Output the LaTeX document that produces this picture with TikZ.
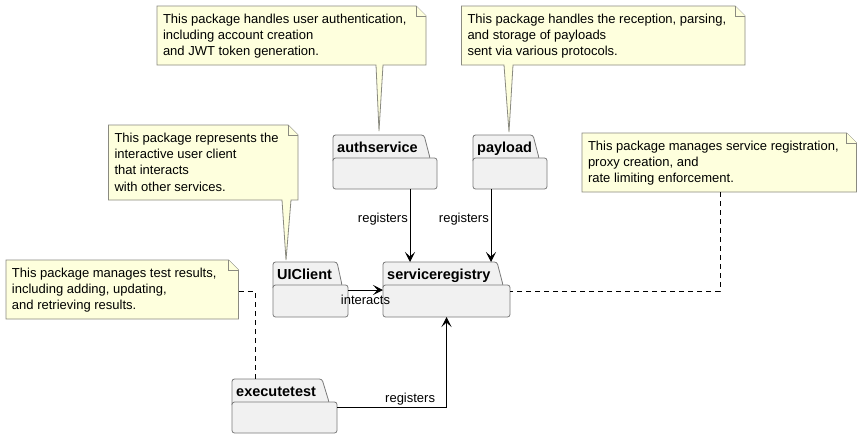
\documentclass[tikz,border=0pt]{standalone}
\usepackage{fontspec}
\setmainfont{Liberation Sans}
\usetikzlibrary{arrows.meta,calc}
\definecolor{notefill}{HTML}{FEFFDD}
\definecolor{notedraw}{HTML}{8A8A80}
\definecolor{pkgfill}{HTML}{F1F1F1}
\definecolor{pkgdraw}{HTML}{7A7A7A}
\tikzset{
  notebox/.style={fill=notefill, draw=notedraw, line width=0.8pt, line join=miter},
  pkgbox/.style={fill=pkgfill, draw=pkgdraw, line width=0.8pt, rounded corners=2.5pt},
  notetext/.style={anchor=north west, inner sep=0pt, outer sep=0pt, align=left, font=\fontsize{13}{16.3}\selectfont},
  pkgtitle/.style={anchor=base west, inner sep=0pt, font=\fontsize{14.5}{16}\selectfont\bfseries},
  lbl/.style={inner sep=0pt, font=\fontsize{13}{15}\selectfont},
  arr/.style={-{Stealth[length=10pt,width=10pt,inset=4.5pt]}, line width=1pt, draw=black},
  link/.style={draw=black, dash pattern=on 5pt off 4pt, line width=0.8pt}
}
% note outline: left, top, right, bottom, tail base left, tail base right, tip
\newcommand{\drawnote}[7]{%
  \path[notebox] (#1,#2) -- (#3-10,#2) -- (#3,#2+10) -- (#3,#4) -- (#6,#4) -- #7 -- (#5,#4) -- (#1,#4) -- cycle;
  \path[notebox] (#3-10,#2) -- (#3-10,#2+10) -- (#3,#2+10);
}
% package: name, x1, ytop, tab top right, tab bottom right, ymid, width, height
\newcommand{\drawpkg}[8]{%
  \coordinate (#1top) at (#2,#3);
  \path[pkgbox] (#2,#6+3) -- (#2,#3) -- (#4,#3) -- (#5,#6) -- (#5,#6+3);
  \node[pkgbox, anchor=north west, minimum width=#7pt, minimum height=#8pt, inner sep=0pt, outer sep=0pt] (#1) at (#2,#6) {};
  \node[pkgtitle] (#1T) at (#2+4,#3+17) {#1};
}
\begin{document}
\begin{tikzpicture}[x=1pt,y=-1pt]
\useasboundingbox[fill=white] (0,0) rectangle (862,440);

% notes
\drawnote{157}{6}{426}{65}{376}{383}{(379,131)}
\node[notetext] (n1) at (163,13.7) {This package handles user authentication,\\including account creation\\and JWT token generation.};

\drawnote{461.5}{6}{745}{65}{504}{513}{(509,132)}
\node[notetext] (n2) at (467.5,13.7) {This package handles the reception, parsing,\\and storage of payloads\\sent via various protocols.};

\drawnote{108.5}{125}{298}{200}{282}{291}{(286,260)}
\node[notetext] (n3) at (114.5,132.7) {This package represents the\\interactive user client\\that interacts\\with other services.};

\drawnote{582}{133}{856.5}{192}{720}{720}{(720,192)}
\node[notetext] (n4) at (588,140.7) {This package manages service registration,\\proxy creation, and\\rate limiting enforcement.};
\coordinate (n4b) at (720,192);

\drawnote{6}{260}{238.5}{319}{6}{6}{(6,319)}
\node[notetext] (n5) at (12,267.7) {This package manages test results,\\including adding, updating,\\and retrieving results.};
\coordinate (n5r) at (238.5,291.5);

% packages
\drawpkg{authservice}{333}{135}{424}{430}{158}{104}{31}
\drawpkg{payload}{473}{135}{533}{539}{158}{74}{31}
\drawpkg{UIClient}{273}{262}{337}{342}{285}{75}{32}
\drawpkg{serviceregistry}{383}{262}{497}{503}{285}{127}{32}
\drawpkg{executetest}{232}{379}{322}{329}{402}{105}{31}

% connectors
\draw[arr] ([xshift=25pt]authservice.south) -- ([xshift=25pt]authservice.south |- serviceregistrytop);
\node[lbl, anchor=east] (l1) at (408,219) {registers};
\draw[arr] ([xshift=-19pt]payload.south) -- ([xshift=-19pt]payload.south |- serviceregistrytop);
\node[lbl, anchor=east] (l2) at (489,219) {registers};
\draw[arr] ([yshift=11pt]UIClient.east) -- ([yshift=11pt]serviceregistry.west);
\node[lbl] (l3) at (365.5,300) {interacts};
\draw[arr] ([yshift=10.5pt]executetest.east) -| (serviceregistry.south);
\node[lbl, anchor=west] (l4) at (385,399) {registers};

\draw[link] (n4b) |- ([yshift=10pt]serviceregistry.east);
\draw[link] (n5r) -| ([xshift=23pt]executetesttop);
\end{tikzpicture}
\end{document}
